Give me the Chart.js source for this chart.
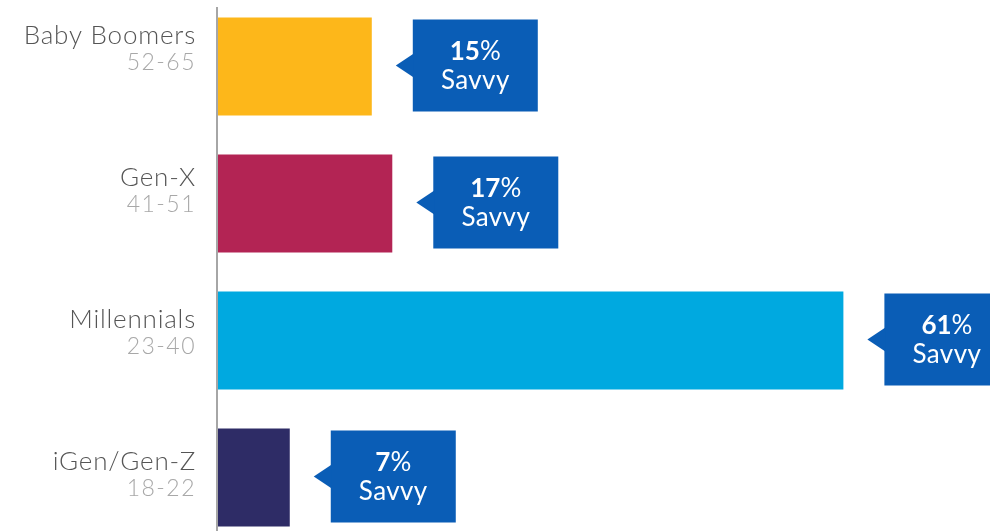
<!DOCTYPE html>
<html>
<head>
<meta charset="utf-8">
<script src="https://cdn.jsdelivr.net/npm/chart.js@4.4.0/dist/chart.umd.min.js"></script>
<style>
  html, body { margin: 0; padding: 0; background: #fff; overflow: hidden; }
  #wrap { position: absolute; left: 0; top: -2px; width: 990px; height: 548px; }
</style>
</head>
<body>
<div id="wrap"><canvas id="chart"></canvas></div>
<script>
// Dados do gráfico
const generations = ['Baby Boomers', 'Gen-X', 'Millennials', 'iGen/Gen-Z'];
const ageRanges = ['52-65', '41-51', '23-40', '18-22'];
const savvyPct = [15, 17, 61, 7];
const barColors = ['#FDB71A', '#B32454', '#00A9E0', '#2E2C66'];

// Linha do eixo + rótulos à esquerda + caixas azuis
const calloutPlugin = {
  id: 'callouts',
  afterDatasetsDraw(chart) {
    const ctx = chart.ctx;
    const area = chart.chartArea;
    const yScale = chart.scales.y;

    // linha vertical do eixo
    ctx.save();
    ctx.strokeStyle = '#a6a6a6';
    ctx.lineWidth = 2;
    ctx.beginPath();
    ctx.moveTo(area.left - 1, 9);
    ctx.lineTo(area.left - 1, chart.height);
    ctx.stroke();

    // rótulos das gerações
    ctx.textAlign = 'right';
    ctx.textBaseline = 'alphabetic';
    generations.forEach((name, i) => {
      const cy = yScale.getPixelForValue(i);
      const y1 = cy - 15 + (i - 1.5) * 4.7;
      ctx.letterSpacing = '0.8px';
      ctx.font = '300 26px Lato';
      ctx.fillStyle = '#555555';
      ctx.fillText(name, 196, y1);
      ctx.letterSpacing = '1.5px';
      ctx.font = '300 23px Lato';
      ctx.fillStyle = '#a8a8a8';
      ctx.fillText(ageRanges[i], 196, y1 + 26);
    });
    ctx.letterSpacing = '0px';

    // caixas "Savvy"
    const meta = chart.getDatasetMeta(0);
    meta.data.forEach((bar, i) => {
      const endX = bar.x;
      const cy = bar.y - 1;
      const boxX = endX + 41;
      const boxW = 125, boxH = 92;
      ctx.fillStyle = '#0A5DB6';
      ctx.fillRect(boxX, cy - boxH / 2, boxW, boxH);
      ctx.beginPath();
      ctx.moveTo(boxX + 1, cy - 12);
      ctx.lineTo(endX + 24, cy);
      ctx.lineTo(boxX + 1, cy + 12);
      ctx.closePath();
      ctx.fill();

      const cx = boxX + boxW / 2;
      const num = String(savvyPct[i]);
      ctx.font = 'bold 26px Lato';
      const wNum = ctx.measureText(num).width;
      ctx.font = '26px Lato';
      const wPct = ctx.measureText('%').width;
      const startX = cx - (wNum + wPct) / 2;
      ctx.textAlign = 'left';
      ctx.fillStyle = '#ffffff';
      ctx.font = 'bold 26px Lato';
      ctx.fillText(num, startX, cy - 6);
      ctx.font = '26px Lato';
      ctx.fillText('%', startX + wNum, cy - 6);
      ctx.textAlign = 'center';
      ctx.letterSpacing = '0.4px';
      ctx.fillText('Savvy', cx, cy + 23);
      ctx.letterSpacing = '0px';
    });
    ctx.restore();
  }
};

const chart = new Chart(document.getElementById('chart'), {
  type: 'bar',
  data: {
    labels: generations,
    datasets: [{
      data: savvyPct,
      backgroundColor: barColors,
      borderWidth: 0,
      categoryPercentage: 1,
      barPercentage: 0.715
    }]
  },
  options: {
    indexAxis: 'y',
    responsive: true,
    maintainAspectRatio: false,
    animation: false,
    layout: { padding: { left: 218, right: 0, top: 0, bottom: 0 } },
    plugins: {
      legend: { display: false },
      tooltip: { enabled: false }
    },
    scales: {
      x: { display: false, min: 0, max: 75.3 },
      y: { display: false }
    }
  },
  plugins: [calloutPlugin]
});
</script>
</body>
</html>
